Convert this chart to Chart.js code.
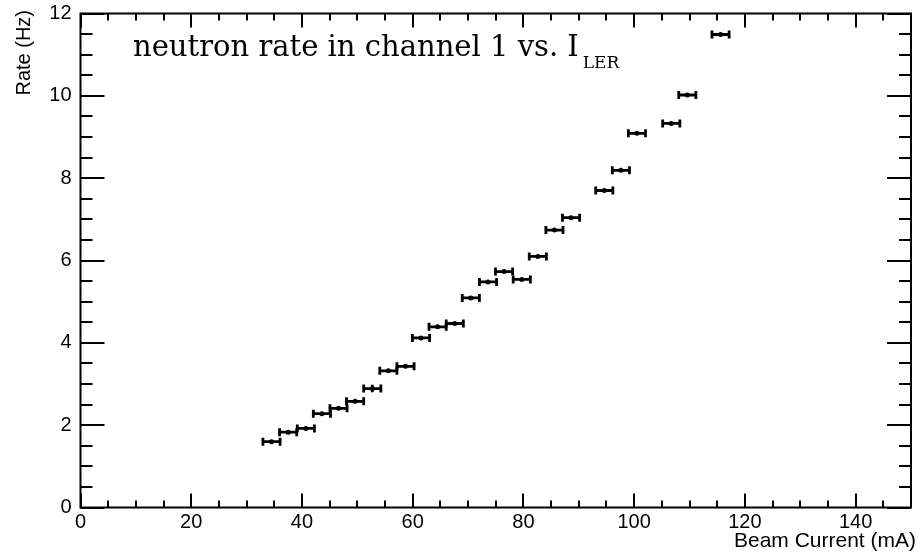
<!DOCTYPE html>
<html>
<head>
<meta charset="utf-8">
<title>neutron rate vs beam current</title>
<script src="https://cdn.jsdelivr.net/npm/chart.js@4/dist/chart.umd.min.js"></script>
<style>
  html, body { margin: 0; padding: 0; background: #fff; }
  #wrap { width: 919px; height: 554px; }
</style>
</head>
<body>
<div id="wrap"><canvas id="rateChart" width="919" height="554"></canvas></div>
<script>
// LER beam current (mA) and channel 1 neutron rate (Hz)
const beamCurrent = [34.5, 37.5, 40.7, 43.6, 46.6, 49.6, 52.7, 55.6, 58.7, 61.5, 64.5, 67.6, 70.5,
  73.6, 76.5, 79.7, 82.6, 85.6, 88.6, 94.6, 97.6, 100.5, 106.7, 109.6, 115.6];
const rate = [1.60, 1.83, 1.92, 2.28, 2.41, 2.58, 2.89, 3.32, 3.43, 4.12, 4.39, 4.47, 5.09,
  5.48, 5.73, 5.54, 6.10, 6.74, 7.04, 7.70, 8.19, 9.09, 9.33, 10.02, 11.49];
const currentErr = [1.55, 1.55, 1.55, 1.55, 1.55, 1.55, 1.55, 1.55, 1.55, 1.55, 1.55, 1.55, 1.55,
  1.55, 1.55, 1.55, 1.55, 1.55, 1.55, 1.55, 1.55, 1.55, 1.55, 1.55, 1.55];
const rateErr = [0.03, 0.03, 0.03, 0.03, 0.03, 0.03, 0.09, 0.03, 0.03, 0.03, 0.03, 0.03, 0.03,
  0.03, 0.03, 0.03, 0.03, 0.03, 0.03, 0.03, 0.03, 0.03, 0.03, 0.03, 0.03];

const xTicks = { min: 0, max: 150, step: 20, minor: 5 };
const yTicks = { min: 0, max: 12, step: 2, minor: 0.5 };

const points = beamCurrent.map((x, i) => ({ x, y: rate[i], ex: currentErr[i], ey: rateErr[i] }));

const sansFamily = '"Liberation Sans", Arial, sans-serif';

// horizontal/vertical error bars with small end caps
const errorBars = {
  id: 'errorBars',
  afterDatasetsDraw(chart) {
    const { ctx, scales: { x, y } } = chart;
    ctx.save();
    ctx.strokeStyle = '#000';
    ctx.lineWidth = 2.8;
    points.forEach((p) => {
      const py = y.getPixelForValue(p.y);
      const x0 = x.getPixelForValue(p.x - p.ex);
      const x1 = x.getPixelForValue(p.x + p.ex);
      const cx = x.getPixelForValue(p.x);
      ctx.beginPath();
      ctx.moveTo(x0, py); ctx.lineTo(x1, py);
      ctx.moveTo(x0, py - 4); ctx.lineTo(x0, py + 4);
      ctx.moveTo(x1, py - 4); ctx.lineTo(x1, py + 4);
      ctx.moveTo(cx, y.getPixelForValue(p.y - p.ey));
      ctx.lineTo(cx, y.getPixelForValue(p.y + p.ey));
      ctx.stroke();
    });
    ctx.restore();
  }
};

// ROOT-like frame: box with inward ticks on all four sides, titles
const frame = {
  id: 'frame',
  afterDraw(chart) {
    const { ctx, chartArea: a, scales: { x, y } } = chart;
    ctx.save();
    ctx.strokeStyle = '#000';
    ctx.lineWidth = 2;
    ctx.strokeRect(a.left, a.top, a.right - a.left, a.bottom - a.top);

    ctx.beginPath();
    for (let v = yTicks.min; v <= yTicks.max + 1e-9; v += yTicks.minor) {
      const py = Math.round(y.getPixelForValue(v));
      const major = Math.abs(v / yTicks.step - Math.round(v / yTicks.step)) < 1e-6;
      const len = major ? 24 : 12;
      ctx.moveTo(a.left, py); ctx.lineTo(a.left + len, py);
      ctx.moveTo(a.right, py); ctx.lineTo(a.right - len, py);
    }
    for (let v = xTicks.min; v <= xTicks.max + 1e-9; v += xTicks.minor) {
      const px = Math.round(x.getPixelForValue(v));
      const major = v % xTicks.step === 0;
      const len = major ? 14 : 7;
      ctx.moveTo(px, a.bottom); ctx.lineTo(px, a.bottom - len);
      ctx.moveTo(px, a.top); ctx.lineTo(px, a.top + len);
    }
    ctx.stroke();

    // axis titles
    ctx.fillStyle = '#000';
    ctx.font = '21px ' + sansFamily;
    ctx.textAlign = 'right';
    ctx.textBaseline = 'alphabetic';
    ctx.fillText('Beam Current (mA)', 916, 547);

    ctx.save();
    ctx.translate(24, 10);
    ctx.rotate(-Math.PI / 2);
    ctx.textBaseline = 'middle';
    ctx.font = '20px ' + sansFamily;
    ctx.fillText('Rate (Hz)', 0, 0);
    ctx.restore();

    // plot label with subscript
    ctx.textAlign = 'left';
    ctx.font = '29px "DejaVu Serif", serif';
    const main = 'neutron rate in channel 1 vs. I';
    ctx.fillText(main, 133, 56);
    const w = ctx.measureText(main).width;
    ctx.font = '17px "DejaVu Serif", serif';
    ctx.fillText('LER', 133 + w + 4, 68);
    ctx.restore();
  }
};

// pin the plot frame: no extra label padding around the chart area
const pinScale = (size) => (scale) => {
  if (scale.isHorizontal()) scale.height = size; else scale.width = size;
  scale.paddingTop = 0;
  scale.paddingBottom = 0;
  scale.paddingLeft = 0;
  scale.paddingRight = 0;
};

new Chart(document.getElementById('rateChart'), {
  type: 'scatter',
  data: {
    datasets: [{
      label: 'rate',
      data: points,
      backgroundColor: '#000',
      borderColor: '#000',
      pointRadius: 2.5,
      pointBorderWidth: 0,
    }],
  },
  options: {
    responsive: false,
    animation: false,
    layout: { padding: { left: 0, right: 8, top: 13.5, bottom: 0 } },
    plugins: { legend: { display: false }, tooltip: { enabled: false } },
    scales: {
      x: {
        type: 'linear',
        min: xTicks.min,
        max: xTicks.max,
        grid: { display: false, drawTicks: false },
        border: { display: false },
        ticks: {
          stepSize: xTicks.step,
          includeBounds: false,
          autoSkip: false,
          maxRotation: 0,
          padding: 3,
          color: '#000',
          font: { family: sansFamily, size: 20 },
          callback: (v) => (v % xTicks.step === 0 ? v : ''),
        },
        afterFit: pinScale(46.5),
      },
      y: {
        type: 'linear',
        min: yTicks.min,
        max: yTicks.max,
        grid: { display: false, drawTicks: false },
        border: { display: false },
        ticks: {
          stepSize: yTicks.step,
          autoSkip: false,
          padding: 9,
          color: '#000',
          font: { family: sansFamily, size: 20 },
        },
        afterFit: pinScale(80.5),
      },
    },
  },
  plugins: [errorBars, frame],
});
</script>
</body>
</html>
